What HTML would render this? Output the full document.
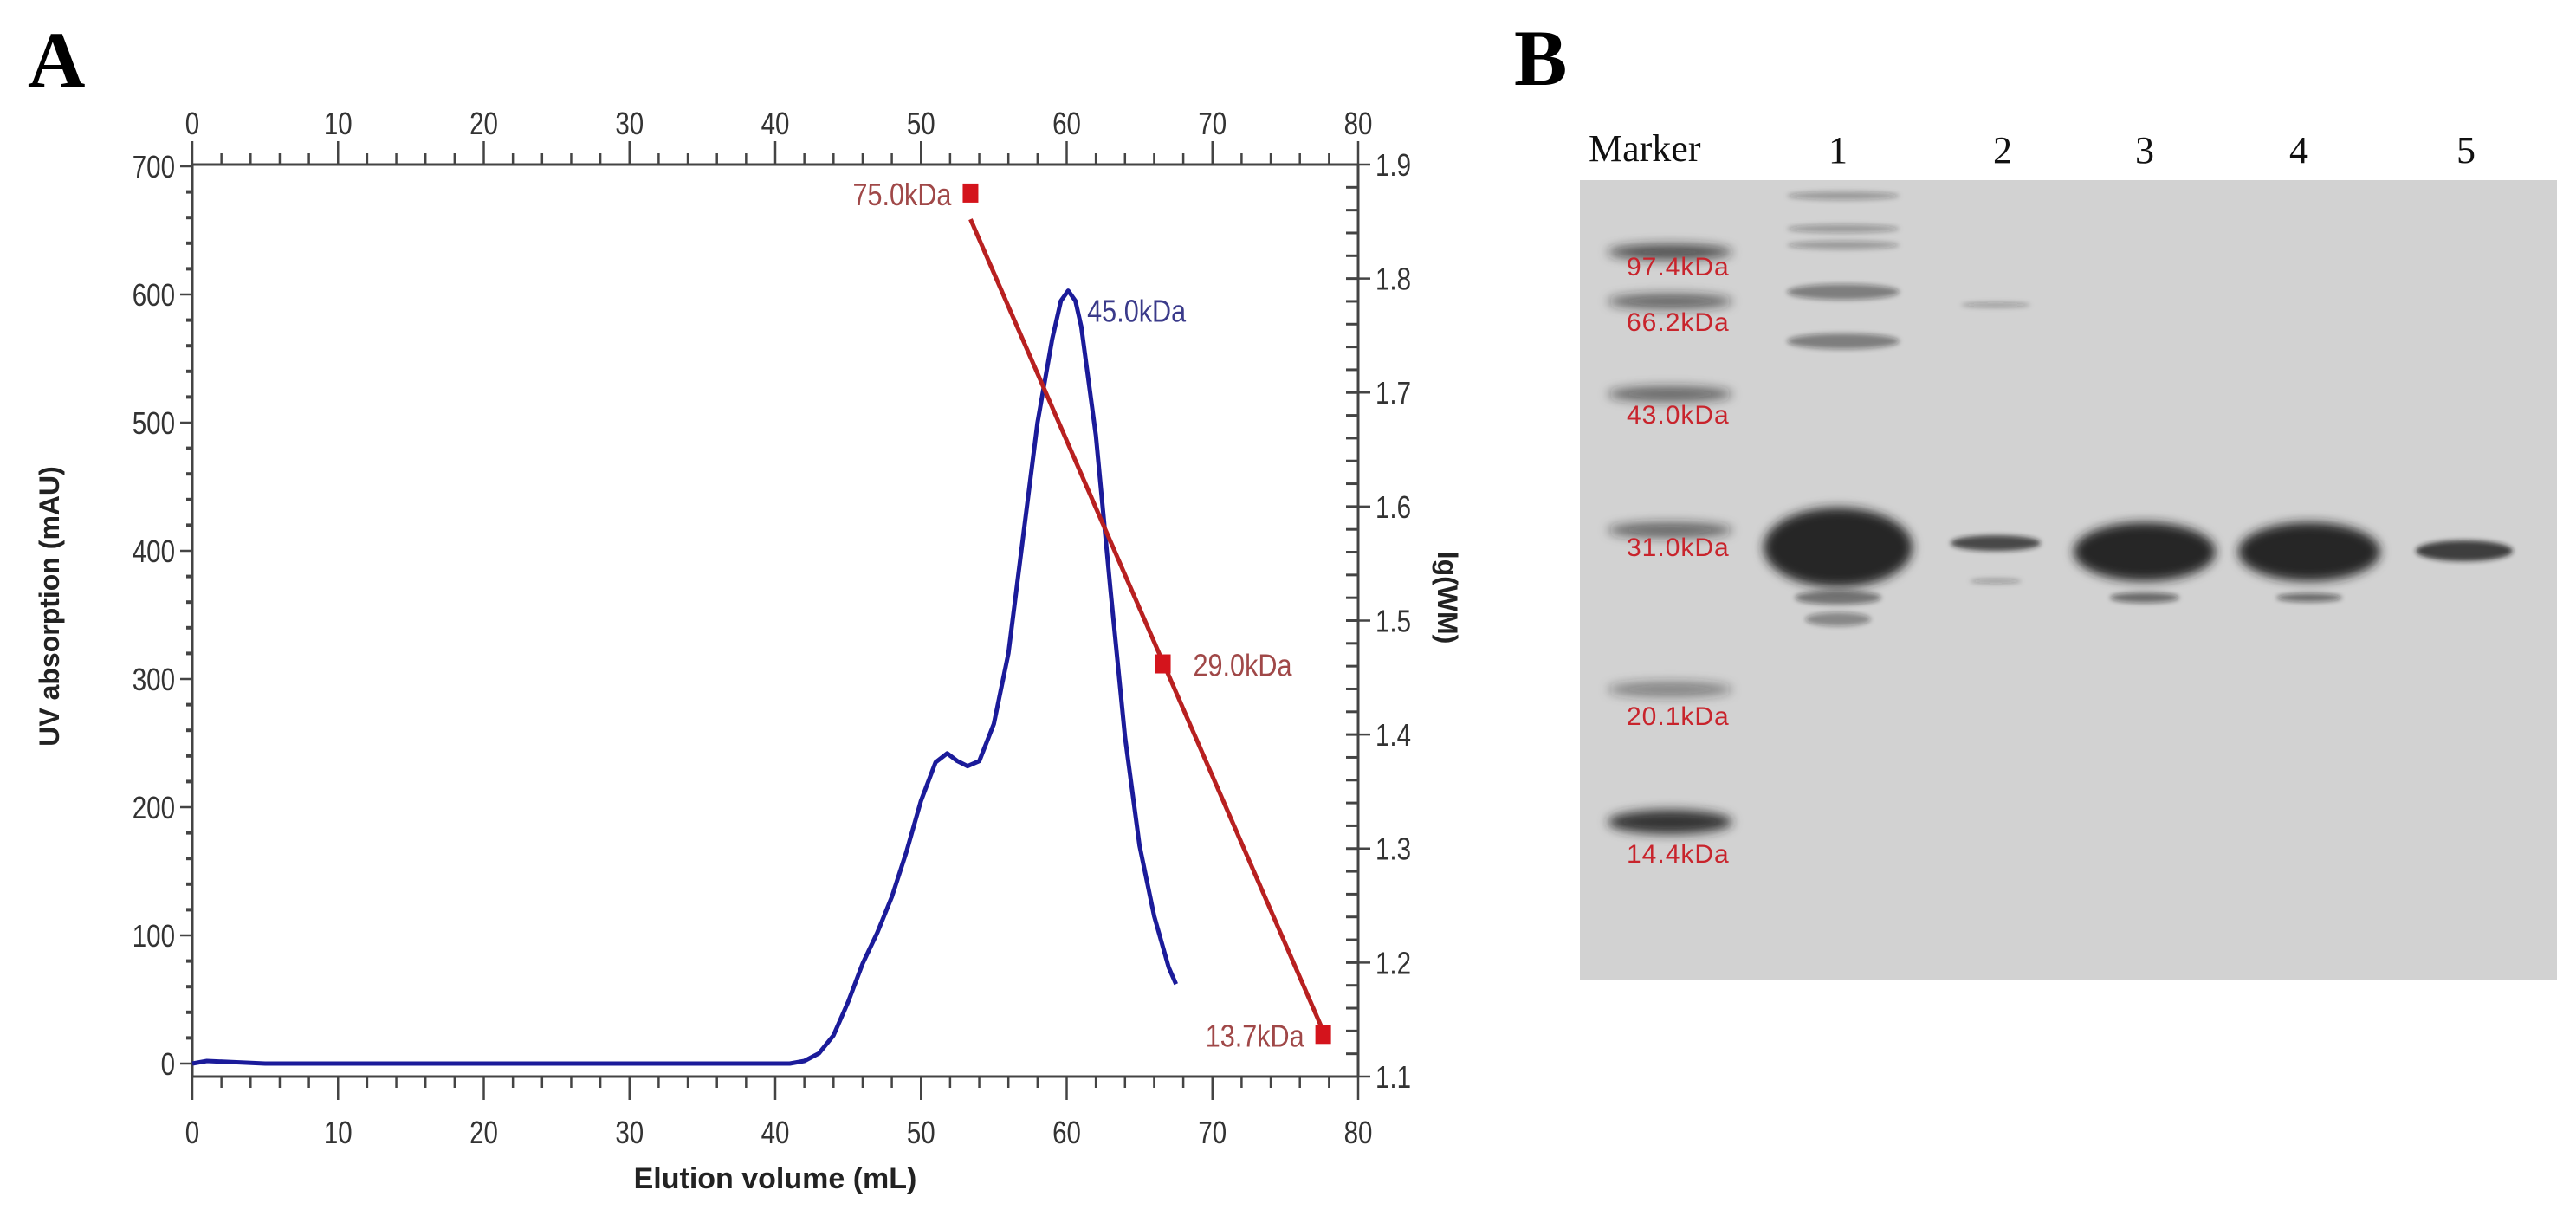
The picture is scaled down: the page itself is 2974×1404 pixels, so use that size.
<!DOCTYPE html>
<html><head><meta charset="utf-8"><style>
html,body{margin:0;padding:0;background:#fff;}
svg{display:block;}
text{font-family:"Liberation Sans",Arial,sans-serif;}
</style></head><body>
<svg id="fig" width="2974" height="1404" viewBox="0 0 2974 1404" xmlns="http://www.w3.org/2000/svg">
<defs>
<filter id="b6" x="-30%" y="-100%" width="160%" height="300%"><feGaussianBlur stdDeviation="6"/></filter>
<filter id="b3" x="-30%" y="-100%" width="160%" height="300%"><feGaussianBlur stdDeviation="3"/></filter>
<filter id="b10" x="-30%" y="-100%" width="160%" height="300%"><feGaussianBlur stdDeviation="10"/></filter>
</defs>
<text x="32" y="100" font-family="Liberation Serif" font-weight="bold" font-size="92" style="font-family:'Liberation Serif',serif">A</text>
<text x="1748" y="98" font-weight="bold" font-size="92" style="font-family:'Liberation Serif',serif">B</text>
<g id="chart"></g>
<g id="gel"></g>
</svg>
<script>
const xTicks=[0,10,20,30,40,50,60,70,80];
const yLeftTicks=[0,100,200,300,400,500,600,700];
const yRightTicks=[1.1,1.2,1.3,1.4,1.5,1.6,1.7,1.8,1.9];
const uvVolume=[0,1,5,10,20,30,40,41,42,43,44,45,46,47,48,49,50,51,51.8,52.5,53.2,54,55,56,57,58,59,59.6,60.1,60.6,61,62,63,64,65,66,67,67.5];
const uvAbsorb=[0,2,0,0,0,0,0,0,2,8,22,48,78,102,130,165,205,235,242,236,232,236,265,320,410,500,565,595,603,595,575,490,370,255,170,115,75,62];
const stdVolume=[53.4,66.6,77.6];
const stdLgMW=[1.875,1.462,1.137];
const stdLabels=["75.0kDa","29.0kDa","13.7kDa"];
const fitVolume=[53.4,77.6];
const fitLgMW=[1.852,1.14];
const peakLabel="45.0kDa";

const NS="http://www.w3.org/2000/svg";
const X0=222,X1=1568,YT=190,YB=1243;
const xs=v=>X0+(v-0)/80*(X1-X0);
const yL=v=>1228-v*1.48;
const yR=v=>YB-(v-1.1)/0.8*(YB-YT);
const chart=document.getElementById('chart');
function mk(tag,attrs,parent){const e=document.createElementNS(NS,tag);for(const k in attrs)e.setAttribute(k,attrs[k]);(parent||chart).appendChild(e);return e;}

// frame axes
let ax=mk('path',{d:`M${X0} ${YT}H${X1}M${X0} ${YB}H${X1}M${X0} ${YT}V${YB}M${X1} ${YT}V${YB}`,stroke:'#444',fill:'none','stroke-width':3});


// x ticks top & bottom
for(let v=0;v<=80;v+=2){
  const x=xs(v),maj=v%10===0,L=maj?27:13;
  mk('line',{x1:x,x2:x,y1:YT,y2:YT-L,stroke:'#444','stroke-width':2.5});
  mk('line',{x1:x,x2:x,y1:YB,y2:YB+L,stroke:'#444','stroke-width':2.5});
}
xTicks.forEach(v=>{
  let t=mk('text',{x:xs(v),y:155,'text-anchor':'middle','font-size':36,fill:'#333',transform:`translate(${xs(v)} 0) scale(0.82 1) translate(${-xs(v)} 0)`});t.textContent=v;
  
  
  let b=mk('text',{x:xs(v),y:1320,'text-anchor':'middle','font-size':36,fill:'#333',transform:`translate(${xs(v)} 0) scale(0.82 1) translate(${-xs(v)} 0)`});b.textContent=v;
  
  
});
// left ticks
for(let v=0;v<=700;v+=20){
  const y=yL(v),maj=v%100===0;
  mk('line',{x1:X0,x2:X0-(maj?14:7),y1:y,y2:y,stroke:'#444','stroke-width':maj?2.5:4});
}
yLeftTicks.forEach(v=>{
  let t=mk('text',{x:X0-20,y:yL(v)+13,'text-anchor':'end','font-size':36,fill:'#333',transform:`translate(${X0-20} 0) scale(0.82 1) translate(${-(X0-20)} 0)`});t.textContent=v;
  
  
});
// right ticks
for(let i=0;i<=40;i++){
  const v=1.1+i*0.02,y=yR(v),maj=i%5===0;
  mk('line',{x1:X1-(maj?0:14),x2:X1+(maj?14:0),y1:y,y2:y,stroke:'#444','stroke-width':maj?2.5:3});
  if(maj)mk('line',{x1:X1-14,x2:X1,y1:y,y2:y,stroke:'#444','stroke-width':3});
}
yRightTicks.forEach(v=>{
  let t=mk('text',{x:X1+20,y:yR(v)+13,'text-anchor':'start','font-size':36,fill:'#333',transform:`translate(${X1+20} 0) scale(0.82 1) translate(${-(X1+20)} 0)`});t.textContent=v.toFixed(1);
  
  
});
// titles
let xt=mk('text',{x:895,y:1372,'text-anchor':'middle','font-size':34,'font-weight':'bold',fill:'#222'});xt.textContent='Elution volume (mL)';


let ytl=mk('text',{x:0,y:0,'text-anchor':'middle','font-size':32,'font-weight':'bold',fill:'#222',transform:'translate(68 700) rotate(-90)'});ytl.textContent='UV absorption (mAU)';


let ytr=mk('text',{x:0,y:0,'text-anchor':'middle','font-size':32,'font-weight':'bold',fill:'#222',transform:'translate(1660 690) rotate(90)'});ytr.textContent='lg(WM)';


// blue UV curve
let d='';uvVolume.forEach((v,i)=>{d+=(i?'L':'M')+xs(v).toFixed(1)+' '+yL(uvAbsorb[i]).toFixed(1);});
let uv=mk('path',{d:d,stroke:'#1b1b9a',fill:'none','stroke-width':5,'stroke-linejoin':'round'});


let pi=uvAbsorb.indexOf(Math.max(...uvAbsorb));
let pl=mk('text',{x:xs(uvVolume[pi])+22,y:yL(uvAbsorb[pi])+36,'font-size':36,fill:'#3a3a8a',transform:`translate(${xs(uvVolume[pi])+22} 0) scale(0.85 1) translate(${-(xs(uvVolume[pi])+22)} 0)`});pl.textContent=peakLabel;


// red regression line
let fl=mk('line',{x1:xs(fitVolume[0]),y1:yR(fitLgMW[0]),x2:xs(fitVolume[1]),y2:yR(fitLgMW[1]),stroke:'#b82020','stroke-width':5});


stdVolume.forEach((v,i)=>{
  const x=xs(v),y=yR(stdLgMW[i]);
  let m=mk('rect',{x:x-9,y:y-11,width:18,height:22,fill:'#d4141c'});
  
  
  const right=i===1;
  const tx=right?x+35:x-22;
  let t=mk('text',{x:tx,y:y+14,'text-anchor':right?'start':'end','font-size':36,fill:'#a04848',transform:`translate(${tx} 0) scale(0.85 1) translate(${-tx} 0)`});t.textContent=stdLabels[i];
  
  
});

// ---- Gel ----
const gel=document.getElementById('gel');
function g(tag,attrs){return mk(tag,attrs,gel);}
let bg=g('rect',{x:1824,y:208,width:1128,height:924,fill:'#d2d2d2'});


const laneNames=['1','2','3','4','5'];
const laneX=[2122,2312,2476,2654,2847];
let mt=g('text',{x:1834,y:186,'font-size':44,fill:'#111',style:"font-family:'Liberation Serif',serif"});mt.textContent='Marker';


laneNames.forEach((n,i)=>{let t=g('text',{x:laneX[i],y:188,'text-anchor':'middle','font-size':44,fill:'#111',style:"font-family:'Liberation Serif',serif"});t.textContent=n;

});
// marker bands
const markerY=[291,348,455,612,796,949];
const markerDark=[0.75,0.6,0.6,0.6,0.45,0.9];
const markerLabels=['97.4kDa','66.2kDa','43.0kDa','31.0kDa','20.1kDa','14.4kDa'];
const markerLabelY=[318,382,489,642,837,996];
markerY.forEach((y,i)=>{
  let e=g('ellipse',{cx:1928,cy:y,rx:72,ry:i==5?14:9,fill:'#222','fill-opacity':markerDark[i],filter:'url(#b6)'});
  
  
  let t=g('text',{x:1878,y:markerLabelY[i],'font-size':30,fill:'#c8242c','letter-spacing':1});t.textContent=markerLabels[i];
  
  
});
function band(cx,cy,rx,ry,op,f,name){let e=g('ellipse',{cx:cx,cy:cy,rx:rx,ry:ry,fill:'#1a1a1a','fill-opacity':op,filter:f});

}
// lane 1
[226,264,283,337,394].forEach((y,i)=>band(2128,y,65,i>2?9:5,i>2?0.45:0.3,'url(#b3)','lane1-minor-band'));
band(2122,632,86,46,0.95,'url(#b6)','lane1-main-band');
band(2122,690,50,8,0.5,'url(#b3)','lane1-minor-band');
band(2122,715,38,8,0.4,'url(#b3)','lane1-minor-band');
// lane 2
band(2304,627,52,9,0.75,'url(#b3)','lane2-band');
band(2304,352,40,3,0.3,'url(#b3)','lane2-faint-band');
band(2304,671,30,3,0.3,'url(#b3)','lane2-faint-band');
// lane 3
band(2476,637,82,34,0.95,'url(#b6)','lane3-main-band');
band(2476,690,40,6,0.55,'url(#b3)','lane3-minor-band');
// lane 4
band(2666,637,82,34,0.95,'url(#b6)','lane4-main-band');
band(2666,690,38,5,0.55,'url(#b3)','lane4-minor-band');
// lane 5
band(2845,636,56,12,0.8,'url(#b3)','lane5-band');
</script>
</body></html>
